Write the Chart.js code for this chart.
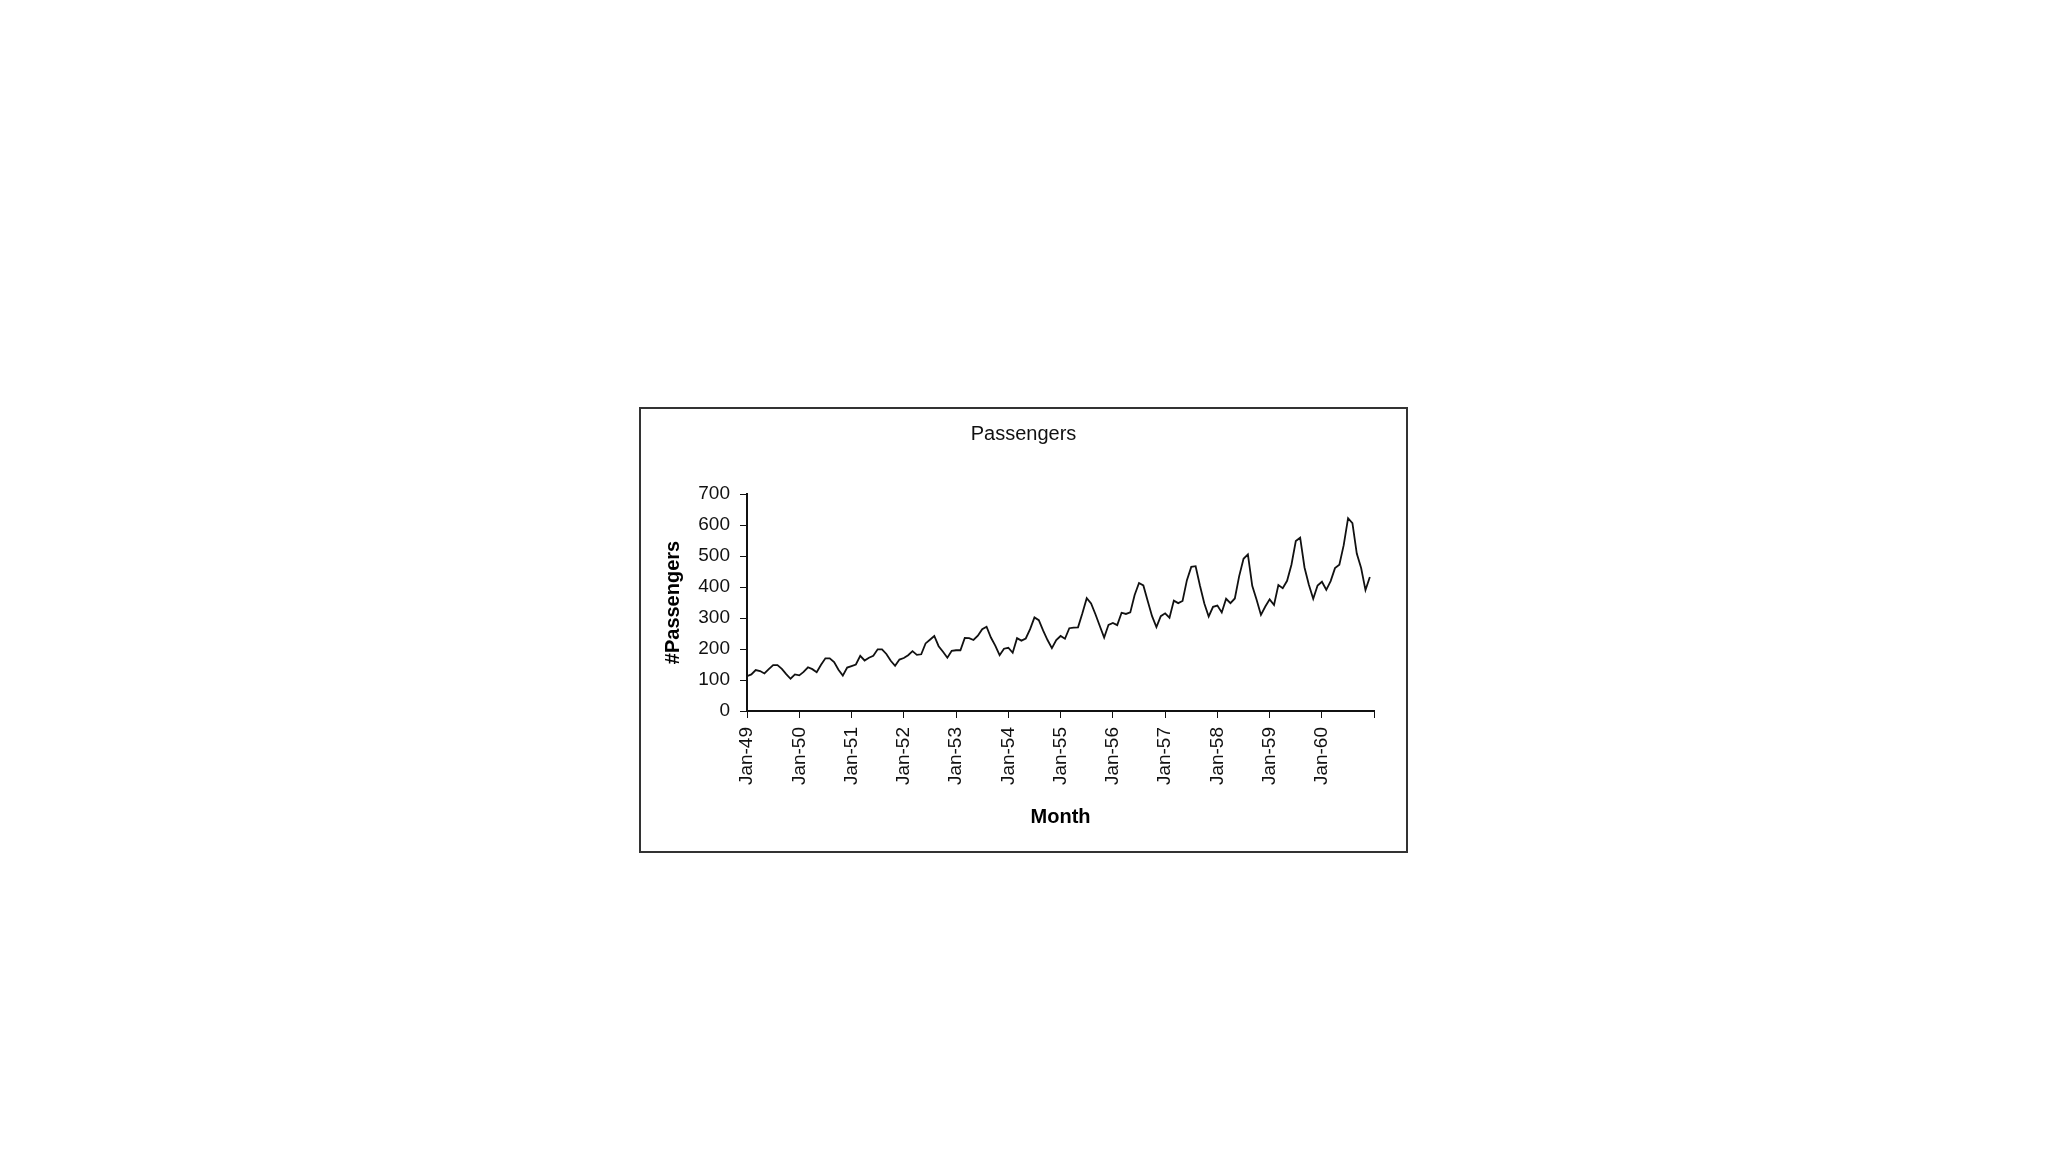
<!DOCTYPE html>
<html>
<head>
<meta charset="utf-8">
<script src="https://cdn.jsdelivr.net/npm/chart.js@4/dist/chart.umd.min.js"></script>
<style>
  html, body { margin: 0; padding: 0; background: #fff; }
  #frame {
    position: absolute; left: 639px; top: 407px;
    width: 769px; height: 446px;
    border: 2px solid #333; box-sizing: border-box; background: #fff;
  }
  #theGraph { display: block; }
</style>
</head>
<body>
<div id="frame"><canvas id="theGraph" width="765" height="442"></canvas></div>
<script>
// monthly passengers, one array per year (Jan..Dec)
var y1949 = [112, 118, 132, 129, 121, 135, 148, 148, 136, 119, 104, 118];
var y1950 = [115, 126, 141, 135, 125, 149, 170, 170, 158, 133, 114, 140];
var y1951 = [145, 150, 178, 163, 172, 178, 199, 199, 184, 162, 146, 166];
var y1952 = [171, 180, 193, 181, 183, 218, 230, 242, 209, 191, 172, 194];
var y1953 = [196, 196, 236, 235, 229, 243, 264, 272, 237, 211, 180, 201];
var y1954 = [204, 188, 235, 227, 234, 264, 302, 293, 259, 229, 203, 229];
var y1955 = [242, 233, 267, 269, 270, 315, 364, 347, 312, 274, 237, 278];
var y1956 = [284, 277, 317, 313, 318, 374, 413, 405, 355, 306, 271, 306];
var y1957 = [315, 301, 356, 348, 355, 422, 465, 467, 404, 347, 305, 336];
var y1958 = [340, 318, 362, 348, 363, 435, 491, 505, 404, 359, 310, 337];
var y1959 = [360, 342, 406, 396, 420, 472, 548, 559, 463, 407, 362, 405];
var y1960 = [417, 391, 419, 461, 472, 535, 622, 606, 508, 461, 390, 432];

var tickLabels = ["Jan-49", "Jan-50", "Jan-51", "Jan-52", "Jan-53", "Jan-54",
                  "Jan-55", "Jan-56", "Jan-57", "Jan-58", "Jan-59", "Jan-60"];

var passengers = [].concat(y1949, y1950, y1951, y1952, y1953, y1954,
                           y1955, y1956, y1957, y1958, y1959, y1960);
var points = passengers.map(function (v, i) { return { x: i, y: v }; });

var ctx = document.getElementById('theGraph').getContext('2d');

var chart = new Chart(ctx, {
  type: 'line',
  data: {
    datasets: [{
      label: "Passengers",
      data: points,
      borderColor: '#111',
      borderWidth: 1.8,
      pointRadius: 0,
      tension: 0,
      fill: false
    }]
  },
  options: {
    responsive: false,
    animation: false,
    devicePixelRatio: 1,
    layout: { padding: 0 },
    plugins: {
      legend: { display: false },
      tooltip: { enabled: false },
      title: {
        display: true,
        text: "Passengers",
        color: '#111',
        font: { family: "Liberation Sans", size: 20, weight: 'normal' },
        padding: { top: 13, bottom: 48 }
      }
    },
    scales: {
      x: {
        type: 'linear',
        min: 0, max: 144,
        afterFit: function (s) { s.height = 140; },
        grid: { drawOnChartArea: false, color: '#111', tickLength: 7 },
        border: { color: '#111', width: 2 },
        ticks: {
          stepSize: 12,
          autoSkip: false,
          minRotation: 90, maxRotation: 90,
          padding: 9,
          color: '#111',
          font: { family: "Liberation Sans", size: 19 },
          callback: function (v) { return v < 144 ? tickLabels[v / 12] : ''; }
        },
        title: {
          display: true, text: "Month", color: '#000',
          font: { family: "Liberation Sans", size: 20, weight: 'bold' },
          padding: { top: 0, bottom: 22 }
        }
      },
      y: {
        min: 0, max: 700,
        afterFit: function (s) { s.width = 106; },
        grid: { drawOnChartArea: false, color: '#111', tickLength: 7 },
        border: { color: '#111', width: 2 },
        ticks: {
          stepSize: 100,
          padding: 10,
          color: '#111',
          font: { family: "Liberation Sans", size: 19 }
        },
        title: {
          display: true, text: "#Passengers", color: '#000',
          font: { family: "Liberation Sans", size: 20, weight: 'bold' },
          padding: { top: 20, bottom: 0 }
        }
      },
      // empty right-hand axis, only keeps the gap between plot and frame
      spacer: {
        type: 'linear',
        position: 'right',
        afterFit: function (s) { s.width = 31; },
        grid: { display: false },
        border: { display: false },
        ticks: { display: false }
      }
    }
  }
});
</script>
</body>
</html>
